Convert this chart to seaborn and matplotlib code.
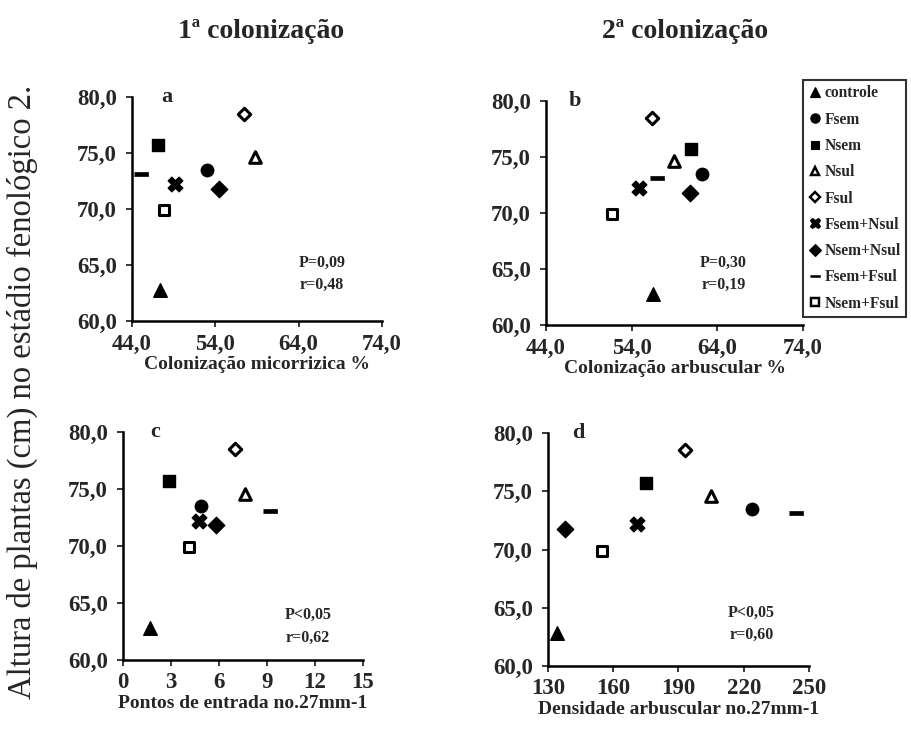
import matplotlib
matplotlib.use("Agg")
import matplotlib.pyplot as plt
from matplotlib.lines import Line2D
import seaborn as sns
import pandas as pd

# ---------------- data ----------------
treatments = ["controle", "Fsem", "Nsem", "Nsul", "Fsul",
              "Fsem+Nsul", "Nsem+Nsul", "Fsem+Fsul", "Nsem+Fsul"]
altura = [62.8, 73.5, 75.7, 74.6, 78.5, 72.2, 71.8, 73.1, 69.9]
col_micorrizica = [47.3, 53.0, 47.1, 58.8, 57.4, 49.2, 54.4, 45.1, 47.8]
col_arbuscular = [56.5, 62.2, 60.9, 58.9, 56.4, 54.9, 60.8, 57.0, 51.7]
pontos_entrada = [1.7, 4.9, 2.9, 7.6, 7.0, 4.75, 5.8, 9.2, 4.1]
dens_arbuscular = [134, 224, 175, 205, 193, 171, 138, 244, 155]

y_ticks = [60, 65, 70, 75, 80]
xticks_col = [44, 54, 64, 74]
xticks_pontos = [0, 3, 6, 9, 12, 15]
xticks_dens = [130, 160, 190, 220, 250]

titles = ["1ª colonização", "2ª colonização"]
xlabels = ["Colonização micorrizica %", "Colonização arbuscular %",
           "Pontos de entrada no.27mm-1", "Densidade arbuscular no.27mm-1"]
ylabel = "Altura de plantas (cm) no estádio fenológico 2."
stat_p = ["P=0,09", "P=0,30", "P<0,05", "P<0,05"]
stat_r = ["r=0,48", "r=0,19", "r=0,62", "r=0,60"]
letters = ["a", "b", "c", "d"]

df = pd.DataFrame({
    "trat": treatments,
    "altura": altura,
    "micorrizica": col_micorrizica,
    "arbuscular": col_arbuscular,
    "pontos": pontos_entrada,
    "densidade": dens_arbuscular,
})

# ---------------- style ----------------
sns.set_style("ticks")
plt.rcParams["font.family"] = ["Liberation Serif", "DejaVu Serif"]
plt.rcParams["font.weight"] = "bold"

dash = [(-1, -0.22), (1, -0.22), (1, 0.22), (-1, 0.22)]
styles = {
    "controle":  dict(marker="^", s=95, color="black", lw=1.0),
    "Fsem":      dict(marker="o", s=80, color="black", lw=1.0),
    "Nsem":      dict(marker="s", s=70, color="black", lw=1.0),
    "Nsul":      dict(marker="^", s=70, color="white", lw=2.2),
    "Fsul":      dict(marker="D", s=40, color="white", lw=2.2),
    "Fsem+Nsul": dict(marker="X", s=110, color="black", lw=1.0),
    "Nsem+Nsul": dict(marker="D", s=70, color="black", lw=1.0),
    "Fsem+Fsul": dict(marker=dash, s=110, color="black", lw=0.5),
    "Nsem+Fsul": dict(marker="s", s=55, color="white", lw=2.2),
}

W, H = 912, 735
fig = plt.figure(figsize=(W / 100, H / 100), dpi=100)

# axes boxes in pixels: left, top(y=80), right, bottom(y=60)
boxes = [(132, 97, 382, 321), (546, 101, 803, 325),
         (123, 432, 363, 660), (548, 433, 809, 666)]
xcols = ["micorrizica", "arbuscular", "pontos", "densidade"]
xticks_all = [xticks_col, xticks_col, xticks_pontos, xticks_dens]
letter_x = [0.14, 0.113, 0.133, 0.115]
stat_x = [0.76, 0.69, 0.77, 0.78]
stat_yp = [0.26, 0.277, 0.197, 0.23]
stat_yr = [0.16, 0.18, 0.096, 0.133]

axes = []
for i, (l, t, r, b) in enumerate(boxes):
    ax = fig.add_axes([l / W, 1 - b / H, (r - l) / W, (b - t) / H])
    axes.append(ax)
    for trat in treatments:
        st = styles[trat]
        sns.scatterplot(data=df[df["trat"] == trat], x=xcols[i], y="altura",
                        marker=st["marker"], s=st["s"], color=st["color"],
                        edgecolor="black", linewidth=st["lw"], ax=ax,
                        legend=False, zorder=3, clip_on=False)
    xt = xticks_all[i]
    ax.set_xlim(xt[0], xt[-1])
    ax.set_ylim(60, 80)
    ax.set_yticks(y_ticks)
    ax.set_yticklabels([f"{v:.1f}".replace(".", ",") for v in y_ticks])
    ax.set_xticks(xt)
    if i < 2:
        ax.set_xticklabels([f"{v:.1f}".replace(".", ",") for v in xt])
    else:
        ax.set_xticklabels([str(v) for v in xt])
    ax.tick_params(axis="both", direction="out", length=4, width=1.3,
                   labelsize=16.5)
    ax.tick_params(axis="y", pad=7)
    ax.tick_params(axis="x", pad=5)
    for lab in ax.get_xticklabels() + ax.get_yticklabels():
        lab.set_fontweight("bold")
    sns.despine(ax=ax)
    for sp in ("left", "bottom"):
        ax.spines[sp].set_linewidth(1.8)
        ax.spines[sp].set_color("black")
    ax.set_xlabel(xlabels[i], fontsize=14, fontweight="bold", labelpad=1)
    ax.set_ylabel("")
    ax.text(letter_x[i], 1.0, letters[i], transform=ax.transAxes,
            fontsize=16, fontweight="bold", ha="center", va="center")
    ax.text(stat_x[i], stat_yp[i], stat_p[i], transform=ax.transAxes,
            fontsize=11.5, fontweight="bold", ha="center", va="center")
    ax.text(stat_x[i], stat_yr[i], stat_r[i], transform=ax.transAxes,
            fontsize=11.5, fontweight="bold", ha="center", va="center")

# titles
fig.text(261 / W, 1 - 31 / H, titles[0], fontsize=20, fontweight="bold",
         ha="center", va="center")
fig.text(685 / W, 1 - 31 / H, titles[1], fontsize=20, fontweight="bold",
         ha="center", va="center")

# y label
fig.text(22 / W, 1 - 392 / H, ylabel, fontsize=23.5, fontweight="normal",
         rotation=90, ha="center", va="center")

# legend
handles = []
for trat in treatments:
    st = styles[trat]
    handles.append(Line2D([], [], linestyle="None", marker=st["marker"],
                          markersize=(st["s"] ** 0.5) * 0.75,
                          markerfacecolor=st["color"], markeredgecolor="black",
                          markeredgewidth=st["lw"] * 0.8))
leg = fig.legend(handles, treatments, loc="upper left",
                 bbox_to_anchor=(803 / W, 1 - 80 / H),
                 frameon=True, fancybox=False, edgecolor="black",
                 prop={"family": "Liberation Serif", "weight": "bold", "size": 11.2},
                 labelspacing=0.66, handlelength=0.8, handletextpad=0.25,
                 borderpad=0.35, borderaxespad=0)
leg.get_frame().set_linewidth(1.5)

fig.savefig("out.png", dpi=100)
